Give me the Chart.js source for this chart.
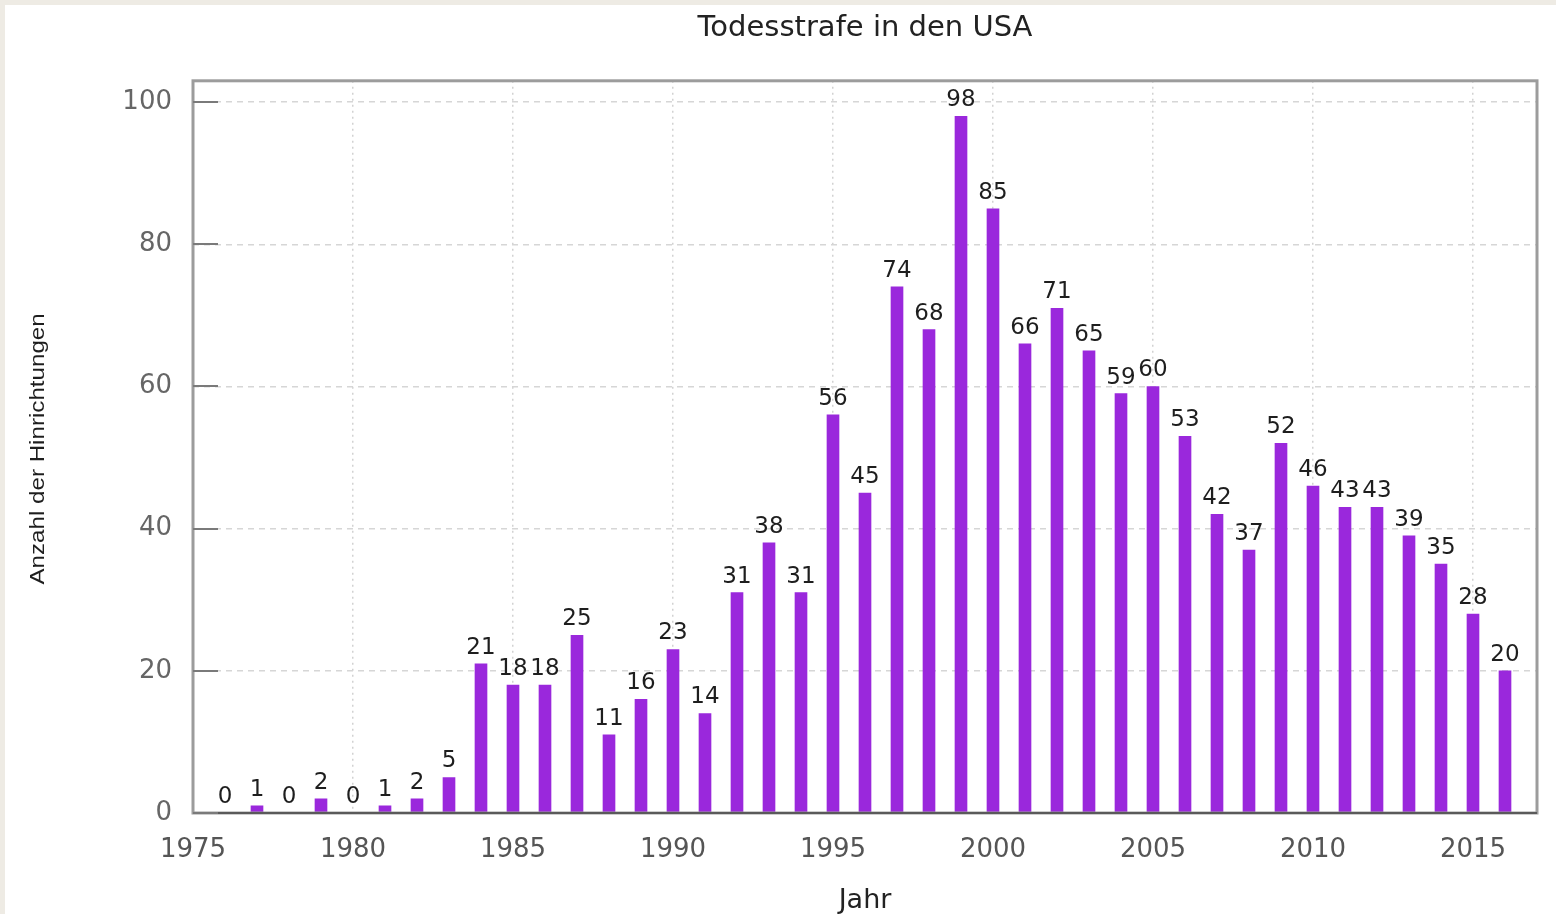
<!DOCTYPE html>
<html>
<head>
<meta charset="utf-8">
<title>Todesstrafe in den USA</title>
<script src="https://cdn.jsdelivr.net/npm/chart.js@4.4.1/dist/chart.umd.min.js"></script>
<style>
  html, body { margin: 0; padding: 0; background: #eeebe4; width: 1556px; height: 914px; overflow: hidden; }
  #wrap { position: absolute; left: 5px; top: 5px; width: 1551px; height: 909px; background: #ffffff; }
  canvas { display: block; }
</style>
</head>
<body>
<div id="wrap"><canvas id="chart" width="1551" height="909"></canvas></div>
<script>
// Executions per year in the USA
const years = [1976, 1977, 1978, 1979, 1980, 1981, 1982, 1983, 1984, 1985,
               1986, 1987, 1988, 1989, 1990, 1991, 1992, 1993, 1994, 1995,
               1996, 1997, 1998, 1999, 2000, 2001, 2002, 2003, 2004, 2005,
               2006, 2007, 2008, 2009, 2010, 2011, 2012, 2013, 2014, 2015, 2016];
const executions = [0, 1, 0, 2, 0, 1, 2, 5, 21, 18,
                    18, 25, 11, 16, 23, 14, 31, 38, 31, 56,
                    45, 74, 68, 98, 85, 66, 71, 65, 59, 60,
                    53, 42, 37, 52, 46, 43, 43, 39, 35, 28, 20];
const yearTicks = [1975, 1980, 1985, 1990, 1995, 2000, 2005, 2010, 2015];
const countTicks = [0, 20, 40, 60, 80, 100];

const chartTitle = 'Todesstrafe in den USA';
const xTitle = 'Jahr';
const yTitle = 'Anzahl der Hinrichtungen';

const BAR_COLOR = '#9a28dc';
const FONT = 'DejaVu Sans';

// Value printed above each bar
const valueLabels = {
  id: 'valueLabels',
  afterDatasetsDraw(chart) {
    const ctx = chart.ctx;
    const meta = chart.getDatasetMeta(0);
    ctx.save();
    ctx.font = '23px "' + FONT + '"';
    ctx.fillStyle = '#1e1e1e';
    ctx.textAlign = 'center';
    ctx.textBaseline = 'middle';
    meta.data.forEach((bar, i) => {
      ctx.fillText(String(executions[i]), bar.x, bar.y - 16);
    });
    ctx.restore();
  }
};

// Plot frame, inward y tick marks and the rotated y-axis caption
const frame = {
  id: 'frame',
  afterDraw(chart) {
    const ctx = chart.ctx;
    const a = chart.chartArea;
    const y = chart.scales.y;
    ctx.save();
    ctx.strokeStyle = '#9c9c9c';
    ctx.lineWidth = 3;
    ctx.strokeRect(a.left, a.top, a.right - a.left, a.bottom - a.top);
    ctx.strokeStyle = '#5a5a5a';
    ctx.lineWidth = 2;
    ctx.beginPath();
    ctx.moveTo(a.left, a.bottom);
    ctx.lineTo(a.right, a.bottom);
    ctx.stroke();
    ctx.strokeStyle = '#7a7a7a';
    ctx.lineWidth = 2;
    countTicks.forEach(v => {
      const py = Math.round(y.getPixelForValue(v));
      ctx.beginPath();
      ctx.moveTo(a.left, py);
      ctx.lineTo(a.left + 25, py);
      ctx.stroke();
    });
    ctx.translate(33, (a.top + a.bottom) / 2 + 2);
    ctx.rotate(-Math.PI / 2);
    ctx.scale(1.15, 1);
    ctx.font = '21px "Liberation Sans"';
    ctx.fillStyle = '#1e1e1e';
    ctx.textAlign = 'center';
    ctx.textBaseline = 'middle';
    ctx.fillText(yTitle, 0, 0);
    ctx.restore();
  }
};

new Chart(document.getElementById('chart'), {
  type: 'bar',
  data: {
    datasets: [{
      label: yTitle,
      data: years.map((yr, i) => ({ x: yr, y: executions[i] })),
      backgroundColor: BAR_COLOR,
      borderWidth: 0,
      barThickness: 12
    }]
  },
  options: {
    responsive: false,
    animation: false,
    devicePixelRatio: 1,
    layout: { padding: { left: 0, right: 19, top: 0, bottom: 0 } },
    plugins: {
      legend: { display: false },
      tooltip: { enabled: false },
      title: {
        display: true,
        text: chartTitle,
        fullSize: false,
        color: '#222',
        font: { family: FONT, size: 29, weight: 'normal', lineHeight: 1.2 },
        padding: { top: 6, bottom: 35 }
      }
    },
    scales: {
      x: {
        type: 'linear',
        min: 1975,
        max: 2017,
        offset: false,
        afterBuildTicks: s => { s.ticks = yearTicks.map(v => ({ value: v })); },
        afterFit: s => { s.height = 101; },
        ticks: {
          callback: v => String(v),
          color: '#555',
          font: { family: FONT, size: 26 },
          padding: 22,
          maxRotation: 0,
          autoSkip: false
        },
        grid: { color: '#d2d2d2', lineWidth: 1.5, drawTicks: false, offset: false },
        border: { display: false, dash: [2, 4] },
        title: {
          display: true,
          text: xTitle,
          color: '#222',
          font: { family: FONT, size: 27, lineHeight: 1 },
          padding: 0
        }
      },
      y: {
        min: 0,
        max: 103,
        afterBuildTicks: s => { s.ticks = countTicks.map(v => ({ value: v })); },
        afterFit: s => { s.width = 188; },
        ticks: {
          callback: v => String(v),
          color: '#666',
          font: { family: FONT, size: 26 },
          padding: 21
        },
        grid: { color: '#d6d6d6', lineWidth: 1.5, drawTicks: false },
        border: { display: false, dash: [6, 5] }
      }
    }
  },
  plugins: [valueLabels, frame]
});
</script>
</body>
</html>
